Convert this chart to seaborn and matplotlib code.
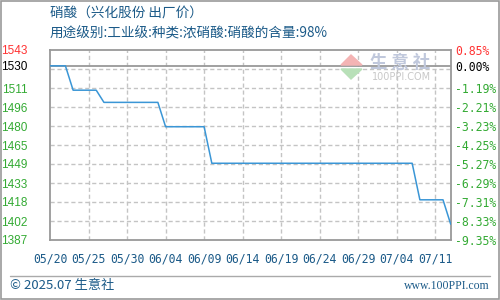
import matplotlib
matplotlib.use("Agg")
import matplotlib.pyplot as plt
import seaborn as sns
import numpy as np
import pandas as pd
from matplotlib.patches import Polygon, Rectangle

# ---- data ----
days = [0, 2, 3, 6, 7, 14, 15, 20, 21, 47, 48, 51, 52]
prices = [1530, 1530, 1510, 1510, 1500, 1500, 1480, 1480, 1450, 1450, 1420, 1420, 1400]
x_tick_labels = ["05/20", "05/25", "05/30", "06/04", "06/09", "06/14",
                 "06/19", "06/24", "06/29", "07/04", "07/11"]
left_labels = ["1387", "1402", "1418", "1433", "1449", "1465", "1480",
               "1496", "1511", "1530", "1543"]
right_labels = ["-9.35%", "-8.33%", "-7.31%", "-6.29%", "-5.27%", "-4.25%",
                "-3.23%", "-2.21%", "-1.19%", "0.00%", "0.85%"]
base_price = 1530
y_min, y_max = 1387, 1543
title = "硝酸（兴化股份 出厂价）"
subtitle = "用途级别:工业级:种类:浓硝酸:硝酸的含量:98%"

df = pd.DataFrame({"day": days, "price": prices})

sns.set_style("white")
plt.rcParams["font.family"] = ["Noto Sans CJK SC", "DejaVu Sans"]

fig = plt.figure(figsize=(5, 3), dpi=100)
ax = fig.add_axes([50 / 500, 60 / 300, 400.7 / 500, 190 / 300])

grid_c = "#c4c4c4"
frame_c = "#999999"
blue_txt = "#1b5a88"
green = "#33aa33"
red = "#ff3333"

ax.set_xlim(0, 52)
ax.set_ylim(y_min, y_max)

grid_y = np.linspace(y_min, y_max, 11)
for gy in grid_y[1:-1]:
    ax.axhline(gy, color=grid_c, lw=1.0, ls=(0, (3, 2)), zorder=1)
xt = np.arange(0, 55, 5)
for gx in xt[1:]:
    ax.axvline(gx, color=grid_c, lw=1.0, ls=(0, (3, 2)), zorder=1)
ax.axhline(base_price, color=frame_c, lw=1.3, zorder=2)

sns.lineplot(data=df, x="day", y="price", ax=ax, color="#3a96d6", lw=1.1, zorder=3)

ax.set_xlabel("")
ax.set_ylabel("")
for s in ax.spines.values():
    s.set_color(frame_c)
    s.set_linewidth(1.3)

ax.set_xticks(xt)
ax.set_xticklabels(x_tick_labels, color=blue_txt, fontsize=8.3, family="DejaVu Sans Mono")
ax.tick_params(axis="x", length=0, pad=9)

left_pos = list(grid_y[:9]) + [base_price, y_max]
ax.set_yticks(left_pos)
ax.set_yticklabels(left_labels, fontsize=8.5, family="Liberation Sans")
ax.tick_params(axis="y", length=0, pad=16)
for i, t in enumerate(ax.get_yticklabels()):
    t.set_color(red if i == len(left_labels) - 1 else ("black" if i == len(left_labels) - 2 else green))

ax2 = ax.twinx()
ax2.set_ylim(y_min, y_max)
ax2.set_yticks(left_pos)
ax2.set_yticklabels(right_labels, fontsize=8.3, family="DejaVu Sans Mono")
ax2.tick_params(axis="y", length=0, pad=3)
for i, t in enumerate(ax2.get_yticklabels()):
    t.set_color(red if i == len(right_labels) - 1 else ("black" if i == len(right_labels) - 2 else green))
for s in ax2.spines.values():
    s.set_visible(False)

# watermark
fig.patches.append(Polygon([[341 / 500, 1 - 65 / 300], [351 / 500, 1 - 55 / 300], [362 / 500, 1 - 65 / 300]],
                           closed=True, transform=fig.transFigure, color="#f4b4b4", zorder=0.5))
fig.patches.append(Polygon([[341 / 500, 1 - 69 / 300], [351 / 500, 1 - 79 / 300], [362 / 500, 1 - 69 / 300]],
                           closed=True, transform=fig.transFigure, color="#b8e0b8", zorder=0.5))
fig.text(400 / 500, 1 - 63 / 300, "生 意 社", ha="center", va="center", fontsize=12.5,
         color="#c0c8dc", fontweight="bold")
fig.text(402 / 500, 1 - 77 / 300, "100PPI.COM", ha="center", va="center", fontsize=7,
         color="#c8c8c8", family="DejaVu Sans")

# titles
fig.text(50 / 500, 1 - 14 / 300, title, ha="left", va="center", fontsize=9.8, color=blue_txt)
fig.text(50 / 500, 1 - 34 / 300, subtitle, ha="left", va="center", fontsize=9.8, color=blue_txt)

# footer
fig.add_artist(plt.Line2D([10 / 500, 490 / 500], [1 - 276 / 300, 1 - 276 / 300],
                          transform=fig.transFigure, color="#aaaaaa", lw=1))
fig.text(10 / 500, 1 - 286 / 300, "© 2025.07 生意社", ha="left", va="center", fontsize=9.5,
         color=blue_txt)
fig.text(490 / 500, 1 - 286 / 300, "www.100PPI.com", ha="right", va="center", fontsize=8.5,
         color=blue_txt, family="Liberation Serif")

# outer border
fig.patches.append(Rectangle((0.001, 0.002), 0.997, 0.996, transform=fig.transFigure,
                             fill=False, edgecolor="#999999", lw=1.2))

fig.savefig("out.png", dpi=100)
